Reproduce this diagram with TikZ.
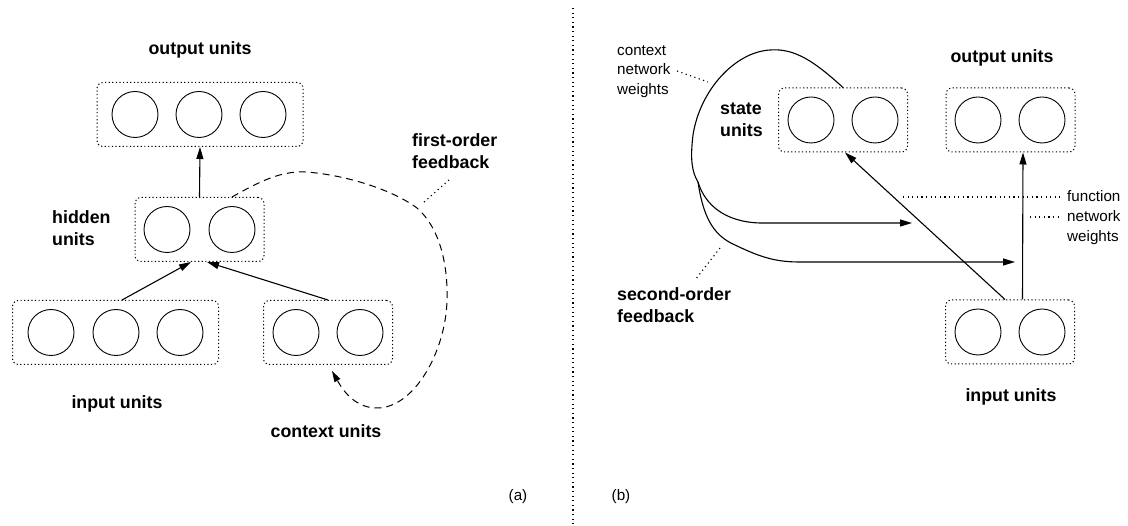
\documentclass[tikz,border=0pt]{standalone}
\usepackage{fontspec}
\setmainfont{Liberation Sans}
\usetikzlibrary{arrows.meta}
\begin{document}
\begin{tikzpicture}[x=1pt,y=-1pt,
  unit/.style={circle,draw,line width=0.9pt,minimum size=46pt,inner sep=0pt},
  group/.style={draw,rounded corners=6pt,dash pattern=on 1.2pt off 2.4pt,line width=1pt,minimum height=64pt,inner sep=0pt},
  wide/.style={group,minimum width=206pt},
  narrow/.style={group,minimum width=129pt},
  wire/.style={line width=1.1pt},
  arr/.style={wire,-{Triangle[length=12pt,width=7pt]}},
  fb/.style={line width=1pt,dash pattern=on 7pt off 5pt,-{Triangle[length=11pt,width=6.5pt]}},
  leader/.style={line width=1.1pt,dash pattern=on 1.2pt off 3.4pt},
  bold/.style={font=\fontsize{17.8}{21.8}\selectfont\bfseries,inner sep=0pt,align=left},
  plain/.style={font=\fontsize{15.2}{19.8}\selectfont,inner sep=0pt,align=left},
]
\useasboundingbox (0,0) rectangle (1128,526);

% ---------------- (a) ----------------
\node[wide] (outbox) at (200,114.5) {};
\node[unit] (o1) at (135,114.5) {};
\node[unit] (o2) at (199,114.5) {};
\node[unit] (o3) at (263,114.5) {};

\node[narrow] (hidbox) at (199.5,229.5) {};
\node[unit] (h1) at (167,229.5) {};
\node[unit] (h2) at (232,229.5) {};

\node[wide] (inbox) at (115.5,332.5) {};
\node[unit] (i1) at (51,332.5) {};
\node[unit] (i2) at (116,332.5) {};
\node[unit] (i3) at (180,332.5) {};

\node[narrow] (ctxbox) at (328,332.5) {};
\node[unit] (c1) at (296,332.5) {};
\node[unit] (c2) at (360,332.5) {};

\node[bold] (outlab) at (200,50) {output units};
\node[bold,anchor=west] (hidlab) at (52,228) {hidden\\units};
\node[bold] (inlab) at (117,404) {input units};
\node[bold] (ctxlab) at (326,431) {context units};
\node[bold,anchor=west] (folab) at (412,151.5) {first-order\\feedback};
\node[plain] (alab) at (518,497) {(a)};

\draw[arr] (hidbox.north) -- (outbox.south);
\draw[arr] ([xshift=6.5pt]inbox.north) -- ([xshift=-8.5pt]hidbox.south);
\draw[arr] (ctxbox.north) -- ([xshift=7.5pt]hidbox.south);

\draw[fb] ([xshift=32.5pt]hidbox.north) .. controls (262,180) and (282,171) .. (305,172)
  .. controls (340,174) and (390,188) .. (417,208)
  .. controls (440,228) and (448,265) .. (447,300)
  .. controls (446,350) and (415,408) .. (377,408)
  .. controls (352,408) and (340,385) .. ([shift={(4,6)}]ctxbox.south);

\coordinate (fo1) at (449,180);
\coordinate (fo2) at (423,203);
\draw[leader] (fo1) -- (fo2);

% divider
\coordinate (dtop) at (573,8);
\coordinate (dbot) at (573,526);
\draw[leader] (dtop) -- (dbot);

% ---------------- (b) ----------------
\node[narrow] (statebox) at (843,120) {};
\node[unit] (s1) at (811,120) {};
\node[unit] (s2) at (875,120) {};

\node[narrow] (routbox) at (1010.5,120) {};
\node[unit] (ro1) at (978,120) {};
\node[unit] (ro2) at (1042,120) {};

\node[narrow] (rinbox) at (1010,332) {};
\node[unit] (ri1) at (978,332) {};
\node[unit] (ri2) at (1042,332) {};

\node[plain,anchor=west] (cnw) at (617,71.5) {context\\network\\weights};
\node[bold,anchor=west] (statelab) at (720,119.5) {state\\units};
\node[bold] (routlab) at (1002,58) {output units};
\node[plain,anchor=west] (fnw) at (1067,217.5) {function\\network\\weights};
\node[bold,anchor=west] (solab) at (617,305) {second-order\\feedback};
\node[bold] (rinlab) at (1011,397) {input units};
\node[plain] (blab) at (621,497) {(b)};

\draw[arr] ([xshift=12.5pt]rinbox.north) -- ([xshift=12.5pt]routbox.south);
\draw[arr] ([xshift=-5pt]rinbox.north) -- ([xshift=2pt]statebox.south);

\coordinate (split) at (698,182);
\coordinate (upend) at (912,223);
\coordinate (loend) at (1015,262);
\draw[wire] (statebox.north) .. controls (815,62) and (795,48) .. (770,50)
  .. controls (735,52) and (700,90) .. (693,135)
  .. controls (690,160) and (692,172) .. (split);
\draw[arr] (split) .. controls (705,205) and (725,222) .. (760,223) -- (upend);
\draw[arr] (split) .. controls (703,215) and (712,235) .. (735,245)
  .. controls (760,257) and (775,262) .. (800,262) -- (loend);

\coordinate (cn1) at (677,71);
\coordinate (cn2) at (708,82);
\draw[leader] (cn1) -- (cn2);
\coordinate (so1) at (720,248);
\coordinate (so2) at (695,280);
\draw[leader] (so1) -- (so2);
\coordinate (fn1) at (903,197);
\coordinate (fn2) at (1060,197);
\draw[leader] (fn1) -- (fn2);
\coordinate (nw1) at (1030,217);
\coordinate (nw2) at (1059,217);
\draw[leader] (nw1) -- (nw2);
\end{tikzpicture}
\end{document}
